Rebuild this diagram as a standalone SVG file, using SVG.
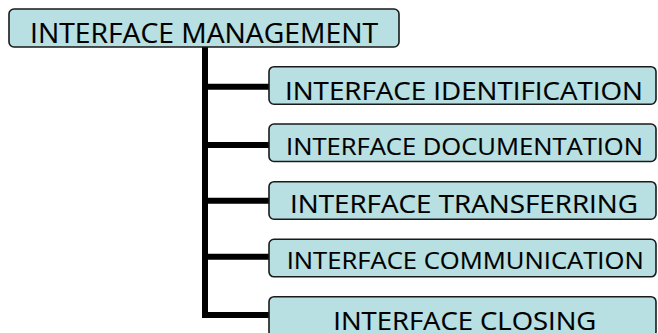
<svg xmlns="http://www.w3.org/2000/svg" width="658" height="333" viewBox="0 0 658 333">
<style>
.box{fill:#b8dfe2;stroke:#1a1a1a;stroke-width:1.6}
.t{font-family:"Open Sans","Liberation Sans",sans-serif;fill:#000;stroke:#000;stroke-width:0.15}
.con{stroke:#000;stroke-width:6;fill:none}
</style>
<rect width="658" height="333" fill="#fff"/>
<g id="connectors">
<line class="con" x1="205" y1="47" x2="205" y2="318"/>
<line class="con" x1="202" y1="86.7" x2="270" y2="86.7"/>
<line class="con" x1="202" y1="145" x2="270" y2="145"/>
<line class="con" x1="202" y1="200.7" x2="270" y2="200.7"/>
<line class="con" x1="202" y1="256.7" x2="270" y2="256.7"/>
<line class="con" x1="202" y1="315" x2="270" y2="315"/>
</g>
<g id="root">
<rect class="box" x="9" y="9" width="390" height="38" rx="5"/>
<text class="t" x="30" y="42.7" font-size="28" textLength="348" lengthAdjust="spacingAndGlyphs">INTERFACE MANAGEMENT</text>
</g>
<g id="n1">
<rect class="box" x="269" y="66.7" width="387" height="37.5" rx="5"/>
<text class="t" x="285" y="100" font-size="25.5" textLength="358" lengthAdjust="spacingAndGlyphs">INTERFACE IDENTIFICATION</text>
</g>
<g id="n2">
<rect class="box" x="269" y="124" width="387" height="37.5" rx="5"/>
<text class="t" x="286" y="155" font-size="24" textLength="357" lengthAdjust="spacingAndGlyphs">INTERFACE DOCUMENTATION</text>
</g>
<g id="n3">
<rect class="box" x="269" y="181.7" width="387" height="37.5" rx="5"/>
<text class="t" x="290" y="213.3" font-size="25.5" textLength="348" lengthAdjust="spacingAndGlyphs">INTERFACE TRANSFERRING</text>
</g>
<g id="n4">
<rect class="box" x="269" y="239.3" width="387" height="37.5" rx="5"/>
<text class="t" x="286.7" y="269.3" font-size="24.5" textLength="357" lengthAdjust="spacingAndGlyphs">INTERFACE COMMUNICATION</text>
</g>
<g id="n5">
<rect class="box" x="269" y="296.7" width="387" height="40" rx="5"/>
<text class="t" x="333.3" y="329.5" font-size="25.5" textLength="263" lengthAdjust="spacingAndGlyphs">INTERFACE CLOSING</text>
</g>
</svg>
